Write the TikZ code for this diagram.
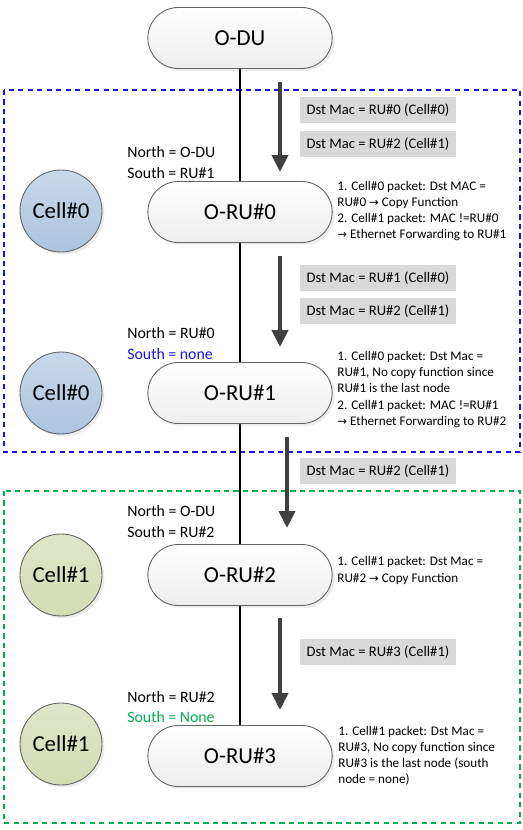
\documentclass[tikz,border=0pt]{standalone}
\usepackage{fontspec}
\setmainfont{Carlito}
\usepackage{tikz}
\usetikzlibrary{shapes.misc, arrows.meta, positioning, shadows}
\definecolor{mydark}{RGB}{64,64,64}
\definecolor{myedge}{RGB}{100,100,100}
\definecolor{myblue}{RGB}{20,20,235}
\definecolor{mygreen}{RGB}{0,176,80}
\definecolor{msggray}{RGB}{217,217,217}
\definecolor{celltopblue}{RGB}{200,216,234}
\definecolor{cellbotblue}{RGB}{172,196,222}
\definecolor{celltopgreen}{RGB}{224,230,202}
\definecolor{cellbotgreen}{RGB}{210,220,180}
\newcommand{\goesto}{{\fontspec{DejaVu Sans}\fontsize{6.6}{9.2}\selectfont →}}
\tikzset{
  pill/.style={rounded rectangle, draw=myedge, line width=0.5pt,
    top color=white, bottom color=black!7,
    minimum width=3.92cm, minimum height=1.22cm,
    font=\fontsize{13}{15}\selectfont,
    drop shadow={opacity=0.15, shadow xshift=0.05cm, shadow yshift=-0.05cm}},
  bluecell/.style={circle, draw=myedge, line width=0.5pt,
    top color=celltopblue, bottom color=cellbotblue,
    minimum size=1.64cm, inner sep=0pt, font=\fontsize{13}{15}\selectfont,
    drop shadow={opacity=0.15, shadow xshift=0.05cm, shadow yshift=-0.05cm}},
  greencell/.style={bluecell, top color=celltopgreen, bottom color=cellbotgreen},
  msg/.style={rectangle, fill=msggray, minimum width=3.12cm, minimum height=0.52cm,
    inner sep=0pt, font=\fontsize{8.3}{10}\selectfont},
  nslabel/.style={anchor=west, inner sep=0pt, font=\fontsize{9}{11}\selectfont},
  note/.style={anchor=west, align=left, inner sep=0pt,
    font=\fontsize{7.5}{9.2}\selectfont},
  flow/.style={-{Triangle[length=0.34cm, width=0.32cm]}, line width=2.2pt, color=mydark},
  link/.style={line width=0.6pt, color=black}
}

\begin{document}
\begin{tikzpicture}
  \useasboundingbox (0,0) rectangle (10.46,-16.6);

  % Cell groups
  \draw[myblue, line width=1.3pt, dash pattern=on 3pt off 2.4pt] (0.08,-1.8) rectangle (10.4,-9.04);
  \draw[mygreen, line width=1.3pt, dash pattern=on 3pt off 2.4pt] (0.08,-9.82) rectangle (10.4,-16.46);

  % Chain of nodes
  \coordinate (top) at (4.8,-0.76);
  \coordinate (bot) at (4.8,-15.12);
  \draw[link] (top) -- (bot);

  \node[pill] (odu) at (4.8,-0.76) {O-DU};
  \node[pill] (ru0) at (4.8,-4.24) {O-RU\#0};
  \node[pill] (ru1) at (4.8,-7.86) {O-RU\#1};
  \node[pill] (ru2) at (4.8,-11.5) {O-RU\#2};
  \node[pill] (ru3) at (4.8,-15.12) {O-RU\#3};

  % Cells
  \node[bluecell] (cellA) at (1.22,-4.22) {Cell\#0};
  \node[bluecell] (cellB) at (1.22,-7.86) {Cell\#0};
  \node[greencell] (cellC) at (1.22,-11.5) {Cell\#1};
  \node[greencell] (cellD) at (1.22,-14.88) {Cell\#1};

  % North / South neighbours
  \node[nslabel] (n0) at (2.54,-3.04) {North = O-DU};
  \node[nslabel] (s0) at (2.54,-3.46) {South = RU\#1};
  \node[nslabel] (n1) at (2.54,-6.66) {North = RU\#0};
  \node[nslabel, text=myblue] (s1) at (2.54,-7.08) {South = none};
  \node[nslabel] (n2) at (2.54,-10.22) {North = O-DU};
  \node[nslabel] (s2) at (2.54,-10.64) {South = RU\#2};
  \node[nslabel] (n3) at (2.54,-13.94) {North = RU\#2};
  \node[nslabel, text=mygreen] (s3) at (2.54,-14.34) {South = None};

  % Packets
  \node[msg] (m1) at (7.56,-2.2) {Dst Mac = RU\#0 (Cell\#0)};
  \node[msg] (m2) at (7.56,-2.88) {Dst Mac = RU\#2 (Cell\#1)};
  \node[msg] (m3) at (7.56,-5.56) {Dst Mac = RU\#1 (Cell\#0)};
  \node[msg] (m4) at (7.56,-6.22) {Dst Mac = RU\#2 (Cell\#1)};
  \node[msg] (m5) at (7.56,-9.42) {Dst Mac = RU\#2 (Cell\#1)};
  \node[msg] (m6) at (7.56,-13.04) {Dst Mac = RU\#3 (Cell\#1)};

  % Flow arrows
  \coordinate (a1s) at (5.6,-1.64);  \coordinate (a1e) at (5.6,-3.44);
  \coordinate (a2s) at (5.6,-5.12);  \coordinate (a2e) at (5.6,-6.94);
  \coordinate (a3s) at (5.74,-8.74); \coordinate (a3e) at (5.74,-10.56);
  \coordinate (a4s) at (5.6,-12.36); \coordinate (a4e) at (5.6,-14.2);
  \draw[flow] (a1s) -- (a1e);
  \draw[flow] (a2s) -- (a2e);
  \draw[flow] (a3s) -- (a3e);
  \draw[flow] (a4s) -- (a4e);

  % Behaviour notes
  \node[note] (t0) at (6.74,-4.22) {1. Cell\#0 packet: Dst MAC =\\RU\#0 \goesto{} Copy Function\\2. Cell\#1 packet: MAC !=RU\#0\\\goesto{} Ethernet Forwarding to RU\#1};
  \node[note] (t1) at (6.74,-7.79) {1. Cell\#0 packet: Dst Mac =\\RU\#1, No copy function since\\RU\#1 is the last node\\2. Cell\#1 packet: MAC !=RU\#1\\\goesto{} Ethernet Forwarding to RU\#2};
  \node[note] (t2) at (6.74,-11.41) {1. Cell\#1 packet: Dst Mac =\\RU\#2 \goesto{} Copy Function};
  \node[note] (t3) at (6.76,-15.12) {1. Cell\#1 packet: Dst Mac =\\RU\#3, No copy function since\\RU\#3 is the last node (south\\node = none)};
\end{tikzpicture}
\end{document}
